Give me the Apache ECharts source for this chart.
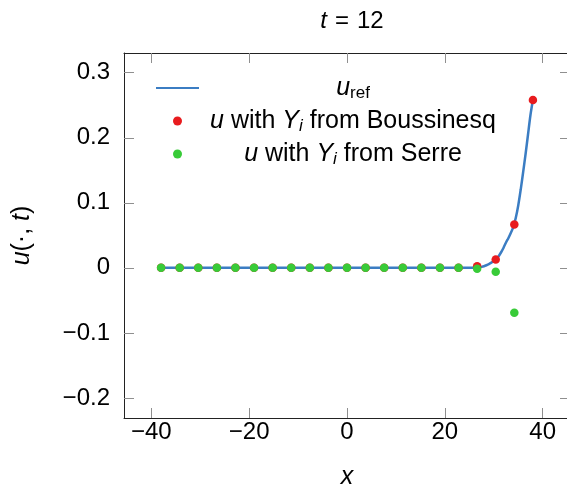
<!DOCTYPE html>
<html>
<head>
<meta charset="utf-8">
<script src="https://cdn.jsdelivr.net/npm/echarts@6/dist/echarts.min.js"></script>
<style>html,body{margin:0;padding:0;background:#fff}#c{width:567px;height:484px}</style>
</head>
<body>
<div id="c"></div>
<script>
// Sample points
const ptsX = [-38, -34.2, -30.4, -26.6, -22.8, -19, -15.2, -11.4, -7.6, -3.8, 0, 3.8, 7.6, 11.4, 15.2, 19, 22.8, 26.6, 30.4, 34.2, 38];
const boussY = [0, 0, 0, 0, 0, 0, 0, 0, 0, 0, 0, 0, 0, 0, 0, 0, 0, 0.0025, 0.0128, 0.0666, 0.258];
const serreY = [0, 0, 0, 0, 0, 0, 0, 0, 0, 0, 0, 0, 0, 0, 0, 0, 0, -0.0015, -0.006, -0.069, null];
// Reference curve
const refX = [-38, 26, 27, 27.5, 28, 28.5, 29, 29.5, 30, 30.5, 31, 31.5, 32, 32.5, 33, 33.5, 34, 34.5, 35, 35.5, 36, 36.5, 37, 37.5, 38];
const refY = [0, 0, 0.0008, 0.0015, 0.0025, 0.004, 0.0058, 0.008, 0.0105, 0.0135, 0.018, 0.024, 0.031, 0.039, 0.046, 0.054, 0.063, 0.077, 0.096, 0.12, 0.147, 0.175, 0.205, 0.235, 0.258];
// Ticks
const xTicks = [-40, -20, 0, 20, 40];
const yTicks = [-0.2, -0.1, 0, 0.1, 0.2, 0.3];

const FONT = 'Liberation Sans';
const fmt = v => (v < 0 ? '\u2212' + Math.abs(v) : String(v));
const pair = (xs, ys) => xs.map((x, i) => [x, ys[i]]).filter(p => p[1] !== null);

const chart = echarts.init(document.getElementById('c'), null, {renderer: 'canvas'});
const tickStyle = {inside: true, length: 10, lineStyle: {color: '#8f8f8f', width: 1}};
const lineStyle = {onZero: false, lineStyle: {color: '#222', width: 1}};
function mkRich(size, align) {
  const base = {fontFamily: FONT, color: '#000', fontWeight: 'normal'};
  const sub = Math.round(size * 0.68);
  const r = {
    i: Object.assign({}, base, {fontStyle: 'italic', fontSize: size}),
    sub: Object.assign({}, base, {fontSize: sub, padding: [Math.round(size * 0.42), 0, 0, 0]}),
    isub: Object.assign({}, base, {fontStyle: 'italic', fontSize: sub, padding: [Math.round(size * 0.42), 0, 0, 0]}),
    n: Object.assign({}, base, {fontSize: size})
  };
  if (align) Object.keys(r).forEach(k => { r[k].align = align; });
  return r;
}
const names = {
  ref: '{i|u}{sub|ref}',
  bouss: '{i|u}{n| with }{i|Y}{isub|i}{n| from Boussinesq}',
  serre: '{i|u}{n| with }{i|Y}{isub|i}{n| from Serre}'
};

chart.setOption({
  animation: false,
  backgroundColor: '#fff',
  title: {
    text: '{i|t}{n|\u2004=\u200412}',
    left: 347, top: 4, textAlign: 'center',
    textStyle: {fontWeight: 'normal', rich: mkRich(24)}
  },
  grid: {left: 124, top: 53, width: 446, bottom: 66, containLabel: false, outerBoundsMode: 'none'},
  legend: {
    orient: 'vertical', left: 155, top: 75, padding: 0,
    itemWidth: 43, itemHeight: 9, itemGap: 6,
    data: [{name: 'ref', itemStyle: {opacity: 0}}, 'bouss', 'serre'],
    formatter: n => names[n],
    textStyle: {width: 298, align: 'center', lineHeight: 26, overflow: 'none', rich: mkRich(25, 'center')}
  },
  xAxis: [{
    type: 'value', min: -45.58, max: 45.58, position: 'bottom',
    axisLine: lineStyle, splitLine: {show: false},
    axisTick: Object.assign({customValues: xTicks}, tickStyle),
    axisLabel: {customValues: xTicks, formatter: fmt, fontFamily: FONT, fontSize: 24, color: '#000', margin: 2},
    name: '{i|x}', nameLocation: 'middle', nameGap: 47, nameTextStyle: {rich: mkRich(25)}
  }, {
    type: 'value', min: -45.58, max: 45.58, position: 'top',
    axisLine: lineStyle, splitLine: {show: false},
    axisTick: Object.assign({customValues: xTicks}, tickStyle),
    axisLabel: {show: false}
  }],
  yAxis: [{
    type: 'value', min: -0.2308, max: 0.3303, position: 'left',
    axisLine: lineStyle, splitLine: {show: false},
    axisTick: Object.assign({customValues: yTicks}, tickStyle),
    axisLabel: {customValues: yTicks, formatter: fmt, fontFamily: FONT, fontSize: 24, color: '#000', margin: 14},
    name: '{i|u}{n|(\u00b7, }{i|t}{n|)}', nameLocation: 'middle', nameGap: 89, nameRotate: 90,
    nameTextStyle: {rich: mkRich(25)}
  }, {
    type: 'value', min: -0.2308, max: 0.3303, position: 'right',
    axisLine: lineStyle, splitLine: {show: false},
    axisTick: Object.assign({customValues: yTicks}, tickStyle),
    axisLabel: {show: false}
  }],
  series: [{
    name: 'ref', type: 'line', data: pair(refX, refY), smooth: 0.3,
    symbol: 'none', showSymbol: false, lineStyle: {color: '#3b7dc3', width: 2.5}, itemStyle: {color: '#3b7dc3'}, z: 2
  }, {
    name: 'bouss', type: 'scatter', data: pair(ptsX, boussY), symbolSize: 8.5,
    itemStyle: {color: '#e81b1e', opacity: 1}, z: 3
  }, {
    name: 'serre', type: 'scatter', data: pair(ptsX, serreY), symbolSize: 8.5,
    itemStyle: {color: '#38cb38', opacity: 1}, z: 4
  }]
});
</script>
</body>
</html>
